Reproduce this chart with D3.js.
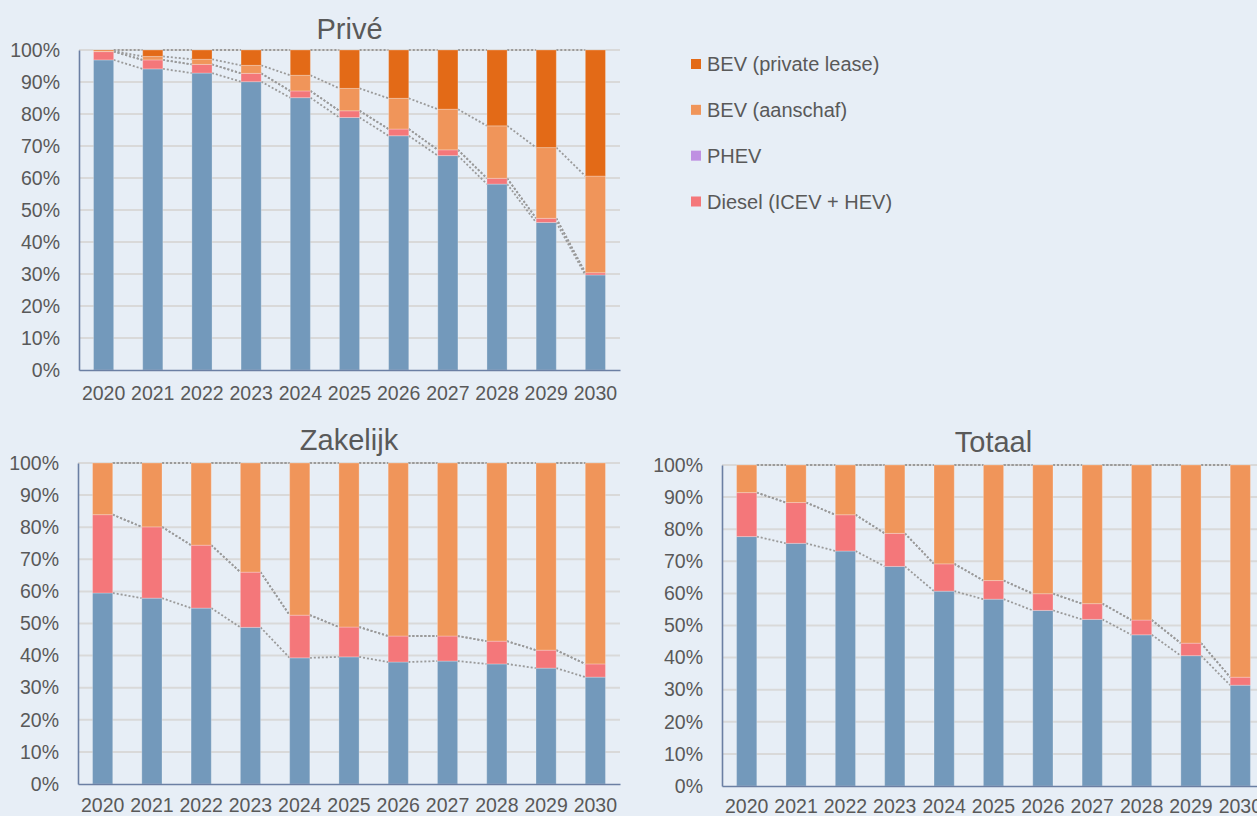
<!DOCTYPE html>
<html>
<head>
<meta charset="utf-8">
<script src="https://cdn.jsdelivr.net/npm/d3@7"></script>
<style>
  html, body { margin: 0; padding: 0; background: #E7EEF6; overflow: hidden; }
  svg { display: block; font-family: "Liberation Sans", Arial, sans-serif; }
</style>
</head>
<body>
<svg id="chart" width="1257" height="816"></svg>
<script>
// ---------- DATA ----------
const years = ["2020","2021","2022","2023","2024","2025","2026","2027","2028","2029","2030"];
const seriesKeys = ["Benzine (ICEV + HEV)", "Diesel (ICEV + HEV)", "PHEV", "BEV (aanschaf)", "BEV (private lease)"];
const legendKeys = ["BEV (private lease)", "BEV (aanschaf)", "PHEV", "Diesel (ICEV + HEV)"];
const yTicks = [0, 10, 20, 30, 40, 50, 60, 70, 80, 90, 100];

// Privé
const priveBenzine  = [96.9, 94.1, 92.8, 90.1, 85.1, 78.9, 73.2, 67.0, 58.1, 46.1, 29.7];
const priveDiesel   = [2.6, 2.8, 2.7, 2.6, 2.1, 2.1, 2.1, 1.8, 1.8, 1.3, 0.7];
const privePHEV     = [0, 0, 0, 0, 0, 0, 0, 0, 0, 0, 0];
const priveAanschaf = [0.2, 1.1, 1.6, 2.5, 4.9, 7.0, 9.6, 12.7, 16.4, 22.1, 30.2];
const priveLease    = [0.3, 2.0, 2.9, 4.8, 7.9, 12.0, 15.1, 18.5, 23.7, 30.5, 39.4];

// Zakelijk
const zakBenzine  = [59.5, 57.9, 54.8, 48.8, 39.3, 39.6, 38.0, 38.3, 37.4, 36.1, 33.3];
const zakDiesel   = [24.4, 22.2, 19.6, 17.2, 13.3, 9.3, 8.1, 7.8, 7.1, 5.6, 4.1];
const zakPHEV     = [0, 0, 0, 0, 0, 0, 0, 0, 0, 0, 0];
const zakAanschaf = [16.1, 19.9, 25.6, 34.0, 47.4, 51.1, 53.9, 53.9, 55.5, 58.3, 62.6];
const zakLease    = [0, 0, 0, 0, 0, 0, 0, 0, 0, 0, 0];

// Totaal
const totBenzine  = [77.7, 75.6, 73.2, 68.4, 60.7, 58.2, 54.7, 51.9, 47.1, 40.6, 31.4];
const totDiesel   = [13.7, 12.7, 11.3, 10.3, 8.5, 5.8, 5.2, 4.9, 4.6, 3.9, 2.5];
const totPHEV     = [0, 0, 0, 0, 0, 0, 0, 0, 0, 0, 0];
const totAanschaf = [8.6, 11.7, 15.5, 21.3, 30.8, 36.0, 40.1, 43.2, 48.3, 55.5, 66.1];
const totLease    = [0, 0, 0, 0, 0, 0, 0, 0, 0, 0, 0];

// ---------- STYLE ----------
const colors = {
  "Benzine (ICEV + HEV)": "#7399BB",
  "Diesel (ICEV + HEV)": "#F4777A",
  "PHEV": "#BF90E2",
  "BEV (aanschaf)": "#F0955A",
  "BEV (private lease)": "#E36A17"
};
const textColor = "#595959";

function buildRows(arrs) {
  return years.map((y, i) => {
    const r = { year: y };
    seriesKeys.forEach((k, j) => r[k] = arrs[j][i]);
    return r;
  });
}

const charts = [
  { title: "Privé", rows: buildRows([priveBenzine, priveDiesel, privePHEV, priveAanschaf, priveLease]),
    x0: 79, x1: 620, yTop: 50, yBot: 370, titleY: 39, xPad: 16 },
  { title: "Zakelijk", rows: buildRows([zakBenzine, zakDiesel, zakPHEV, zakAanschaf, zakLease]),
    x0: 78, x1: 620, yTop: 463, yBot: 784, titleY: 450, xPad: 14 },
  { title: "Totaal", rows: buildRows([totBenzine, totDiesel, totPHEV, totAanschaf, totLease]),
    x0: 722, x1: 1265, yTop: 465, yBot: 786, titleY: 452, xPad: 13 }
];

const svg = d3.select("#chart");

charts.forEach(c => {
  const g = svg.append("g");
  const x = d3.scaleBand().domain(years).range([c.x0, c.x1]).paddingInner(0.59).paddingOuter(0.295);
  const y = d3.scaleLinear().domain([0, 100]).range([c.yBot, c.yTop]);
  const stack = d3.stack().keys(seriesKeys)(c.rows);

  // gridlines
  g.append("g").selectAll("line").data(yTicks.filter(t => t > 0)).join("line")
    .attr("x1", c.x0).attr("x2", c.x1)
    .attr("y1", d => y(d)).attr("y2", d => y(d))
    .attr("stroke", "#D9D9D9").attr("stroke-width", 2);

  // series lines
  const bw = x.bandwidth();
  stack.forEach(layer => {
    const segs = [];
    for (let i = 0; i < years.length - 1; i++) {
      segs.push({ xa: x(years[i]) + bw, ya: y(layer[i][1]), xb: x(years[i + 1]), yb: y(layer[i + 1][1]) });
    }
    g.append("g").selectAll("line").data(segs).join("line")
      .attr("x1", d => d.xa).attr("y1", d => d.ya)
      .attr("x2", d => d.xb).attr("y2", d => d.yb)
      .attr("stroke", "#9A9A9A").attr("stroke-width", 1.8)
      .attr("stroke-dasharray", "2,2");
  });

  // bars
  stack.forEach(layer => {
    g.append("g").selectAll("rect").data(layer).join("rect")
      .attr("x", d => x(d.data.year))
      .attr("width", bw)
      .attr("y", d => y(d[1]))
      .attr("height", d => Math.max(0, y(d[0]) - y(d[1])))
      .attr("fill", colors[layer.key])
      .attr("stroke", d => (d[1] - d[0]) > 0 ? "rgba(255,255,255,0.25)" : "none")
      .attr("stroke-width", 1);
  });

  // y axis
  const ya = g.append("g").attr("transform", `translate(${c.x0},0)`)
    .call(d3.axisLeft(y).tickValues(yTicks).tickSize(0).tickPadding(19).tickFormat(d => d + "%"));
  ya.select(".domain").attr("stroke", "#6B7FA3").attr("stroke-width", 1.6);
  ya.selectAll("text").attr("fill", textColor).style("font-size", "19.5px")
    .style("font-family", "'Liberation Sans', Arial, sans-serif");

  // x axis
  const xa = g.append("g").attr("transform", `translate(0,${c.yBot})`)
    .call(d3.axisBottom(x).tickSize(0).tickPadding(c.xPad));
  xa.select(".domain").attr("stroke", "#6B7FA3").attr("stroke-width", 1.6);
  xa.selectAll("text").attr("fill", textColor).style("font-size", "19.5px")
    .style("font-family", "'Liberation Sans', Arial, sans-serif");

  // title
  g.append("text")
    .attr("x", (c.x0 + c.x1) / 2).attr("y", c.titleY)
    .attr("text-anchor", "middle")
    .attr("fill", textColor).style("font-size", "29px")
    .text(c.title);
});

// legend
const leg = svg.append("g");
const legY = d3.scalePoint().domain(legendKeys).range([64, 201.5]);
legendKeys.forEach(k => {
  leg.append("rect").attr("x", 691).attr("y", legY(k) - 5).attr("width", 10).attr("height", 10)
    .attr("fill", colors[k]);
  leg.append("text").attr("x", 707).attr("y", legY(k)).attr("dy", "0.35em")
    .attr("fill", textColor).style("font-size", "20px").text(k);
});
</script>
</body>
</html>
